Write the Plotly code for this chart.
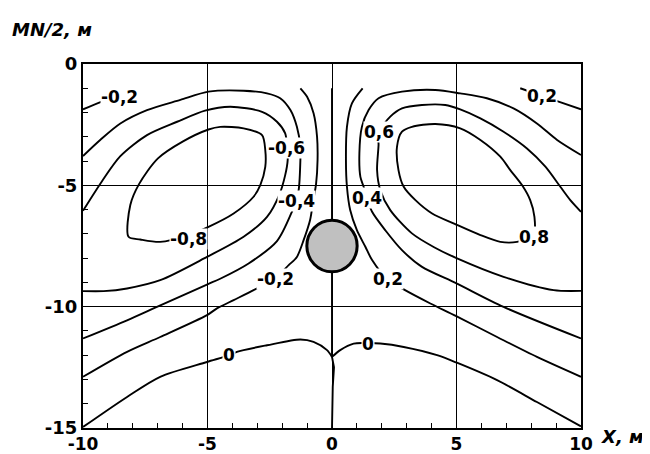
import plotly.graph_objects as go

# ---------------- data ----------------
# contour -0.2 (upper-left stub and main branch)
NEG02_A_X = [-10.0, -9.24, -7.81]
NEG02_A_Y = [-1.87, -1.55, -1.0]
NEG02_B_X = [-1.27, -1.00, -0.74, -0.60, -0.58, -0.64, -0.75, -0.88, -1.14, -1.41, -1.74, -2.28, -3.15, -3.95, -4.62, -5.02, -6.90, -8.23, -10.0]
NEG02_B_Y = [-1.0, -1.35, -2.03, -3.0, -3.96, -4.95, -5.61, -6.43, -7.26, -7.95, -8.29, -8.82, -9.32, -9.73, -10.07, -10.35, -11.25, -11.86, -12.89]
# contour -0.4
NEG04_X = [-10.0, -9.31, -8.50, -7.43, -6.09, -4.96, -3.55, -2.61, -2.08, -1.67, -1.41, -1.27, -1.27, -1.34, -1.45, -1.61, -2.21, -3.35, -4.49, -5.00, -7.03, -8.23, -10.0]
NEG04_Y = [-3.79, -3.13, -2.45, -1.90, -1.48, -1.14, -1.10, -1.21, -1.41, -1.90, -2.59, -3.41, -3.96, -5.20, -5.63, -6.09, -7.30, -8.22, -8.85, -9.08, -10.01, -10.56, -11.31]
# contour -0.6
NEG06_X = [-10.0, -9.25, -8.50, -7.43, -6.22, -5.10, -4.08, -2.81, -2.21, -1.88, -1.80, -1.78, -1.88, -2.12, -2.61, -3.55, -5.02, -6.90, -8.23, -9.17, -10.0]
NEG06_Y = [-6.05, -4.85, -3.80, -2.93, -2.38, -1.92, -1.76, -1.97, -2.38, -2.86, -3.48, -3.96, -4.58, -5.40, -6.30, -7.12, -7.95, -8.91, -9.25, -9.36, -9.36]
# contour -0.8 (closed)
NEG08_X = [-5.77, -4.96, -3.95, -3.15, -2.88, -2.68, -2.68, -2.81, -3.55, -4.49, -4.96, -6.00, -7.00, -7.75, -8.10, -8.17, -7.70, -6.90, -5.77]
NEG08_Y = [-7.05, -6.71, -6.16, -5.47, -4.99, -4.24, -3.55, -2.93, -2.65, -2.59, -2.70, -3.20, -3.90, -4.95, -5.81, -7.12, -7.23, -7.33, -7.05]
# contour 0
ZERO_L_X = [-10.0, -8.23, -6.90, -5.02, -4.12, -3.82, -2.61, -1.27, -0.74, -0.20, 0.0]
ZERO_L_Y = [-14.96, -13.72, -12.89, -12.28, -12.0, -11.86, -11.59, -11.35, -11.45, -11.79, -12.07]
ZERO_R_X = [0.0, 0.33, 0.87, 1.44, 1.94, 2.88, 4.22, 4.99, 6.63, 8.23, 10.0]
ZERO_R_Y = [-12.07, -11.79, -11.52, -11.50, -11.52, -11.66, -12.0, -12.30, -13.03, -13.93, -14.93]
ZERO_V_X = [0.0, 0.0, 0.08, 0.03, 0.0]
ZERO_V_Y = [-1.0, -12.07, -12.5, -13.3, -15.0]
# contour 0.2
POS02_A_X = [7.56, 9.10, 10.0]
POS02_A_Y = [-1.0, -1.55, -1.87]
POS02_B_X = [1.23, 0.80, 0.60, 0.56, 0.60, 0.73, 1.00, 1.34, 1.61, 2.24, 2.88, 3.95, 4.99, 6.63, 8.23, 10.0]
POS02_B_Y = [-1.0, -1.62, -2.59, -3.96, -5.06, -6.02, -6.85, -7.53, -8.08, -8.89, -9.29, -9.87, -10.39, -11.25, -12.07, -12.89]
# contour 0.4
POS04_X = [10.0, 9.04, 8.23, 7.29, 6.22, 5.15, 4.15, 2.81, 1.87, 1.47, 1.20, 1.10, 1.14, 1.27, 1.41, 1.61, 2.14, 2.81, 3.60, 5.00, 6.89, 10.0]
POS04_Y = [-3.75, -3.13, -2.45, -1.83, -1.41, -1.21, -1.07, -1.14, -1.41, -1.90, -2.59, -3.68, -4.65, -5.06, -5.54, -6.09, -6.85, -7.67, -8.35, -9.04, -10.01, -11.31]
# contour 0.6
POS06_X = [10.0, 9.57, 9.17, 8.57, 7.83, 6.89, 5.96, 5.15, 4.55, 3.61, 2.81, 2.34, 1.87, 1.87, 1.81, 1.94, 2.34, 3.21, 4.10, 5.00, 6.89, 8.90, 10.0]
POS06_Y = [-6.09, -5.61, -5.06, -4.23, -3.48, -2.79, -2.24, -1.87, -1.69, -1.69, -1.83, -2.17, -2.82, -3.34, -4.37, -5.20, -6.02, -6.98, -7.55, -8.00, -8.77, -9.32, -9.35]
# contour 0.8 (closed)
POS08_X = [8.10, 8.13, 7.96, 7.63, 7.16, 6.76, 5.96, 5.15, 4.15, 3.21, 2.81, 2.61, 2.67, 2.88, 3.35, 4.02, 4.95, 5.96, 6.76, 7.43, 8.10]
POS08_Y = [-7.05, -6.30, -5.61, -4.99, -4.37, -3.82, -3.13, -2.65, -2.47, -2.59, -2.79, -3.41, -4.37, -5.06, -5.61, -6.16, -6.60, -7.05, -7.33, -7.33, -7.05]

# contour labels
LABEL_TEXT = ["-0,2", "-0,2", "-0,4", "-0,6", "-0,8", "0", "0", "0,2", "0,2", "0,4", "0,6", "0,8"]
LABEL_X = [-8.53, -2.28, -1.44, -1.84, -5.77, -4.12, 1.44, 8.43, 2.24, 1.41, 1.87, 8.10]
LABEL_Y = [-1.35, -8.84, -5.64, -3.48, -7.20, -12.0, -11.52, -1.31, -8.87, -5.54, -2.82, -7.12]

# body (sphere) position
BODY_X = 0.0
BODY_Y = -7.5
BODY_RX = 1.01
BODY_RY = 1.06

# axes
X_TICK_VALS = [-10, -5, 0, 5, 10]
X_TICK_TEXT = ["-10", "-5", "0", "5", "10"]
Y_TICK_VALS = [0, -5, -10, -15]
Y_TICK_TEXT = ["0", "-5", "-10", "-15"]
X_MINOR = list(range(-10, 11))
Y_MINOR = list(range(-15, 1))

# ---------------- figure ----------------
FONT = "DejaVu Sans"
fig = go.Figure()

smooth_lines = [
    (NEG02_A_X, NEG02_A_Y), (NEG02_B_X, NEG02_B_Y), (NEG04_X, NEG04_Y),
    (NEG06_X, NEG06_Y), (NEG08_X, NEG08_Y), (ZERO_L_X, ZERO_L_Y),
    (ZERO_R_X, ZERO_R_Y), (POS02_A_X, POS02_A_Y), (POS02_B_X, POS02_B_Y),
    (POS04_X, POS04_Y), (POS06_X, POS06_Y), (POS08_X, POS08_Y),
]
for xs, ys in smooth_lines:
    fig.add_trace(go.Scatter(x=xs, y=ys, mode="lines",
                             line=dict(color="black", width=1.9, shape="spline", smoothing=0.8),
                             hoverinfo="skip", showlegend=False))
fig.add_trace(go.Scatter(x=ZERO_V_X, y=ZERO_V_Y, mode="lines",
                         line=dict(color="black", width=1.9),
                         hoverinfo="skip", showlegend=False))

fig.add_shape(type="circle", xref="x", yref="y",
              x0=BODY_X - BODY_RX, x1=BODY_X + BODY_RX,
              y0=BODY_Y - BODY_RY, y1=BODY_Y + BODY_RY,
              fillcolor="#c0c0c0", line=dict(color="black", width=3), layer="above")

for t, lx, ly in zip(LABEL_TEXT, LABEL_X, LABEL_Y):
    fig.add_annotation(x=lx, y=ly, xref="x", yref="y", text=t, showarrow=False,
                       bgcolor="white", borderpad=0,
                       font=dict(family=FONT, size=17, color="black", weight="bold"))

fig.add_annotation(x=-0.147, y=1.096, xref="paper", yref="paper", text="MN/2, м",
                   showarrow=False, xanchor="left", yanchor="middle",
                   font=dict(family=FONT, size=18, color="black", weight="bold", style="italic"))
fig.add_annotation(x=1.036, y=-0.022, xref="paper", yref="paper", text="X, м",
                   showarrow=False, xanchor="left", yanchor="middle",
                   font=dict(family=FONT, size=18, color="black", weight="bold", style="italic"))

axis_common = dict(showline=True, linecolor="black", linewidth=2, mirror=True,
                   showgrid=True, gridcolor="black", gridwidth=1, zeroline=False,
                   automargin=False,
                   ticks="inside", ticklen=5, tickcolor="black", tickwidth=1,
                   tickmode="array")
fig.update_xaxes(range=[-10, 10], tickvals=X_TICK_VALS, ticktext=X_TICK_TEXT,
                 tickfont=dict(family=FONT, size=17, color="black", weight="bold"),
                 minor=dict(tickmode="array", tickvals=X_MINOR, ticks="inside", ticklen=5,
                            tickcolor="black", tickwidth=1, showgrid=False),
                 **axis_common)
fig.update_yaxes(range=[-15, 0], tickvals=Y_TICK_VALS, ticktext=Y_TICK_TEXT,
                 tickfont=dict(family=FONT, size=18, color="black", weight="bold"),
                 minor=dict(tickmode="array", tickvals=Y_MINOR, ticks="inside", ticklen=5,
                            tickcolor="black", tickwidth=1, showgrid=False),
                 **axis_common)

# the page adds an 8 px offset; margins compensate so the plot lands where the reference has it
fig.update_layout(width=650, height=454, margin=dict(l=75, r=77, t=56, b=34),
                  plot_bgcolor="white", paper_bgcolor="white", showlegend=False)

fig.write_html("out.html")
